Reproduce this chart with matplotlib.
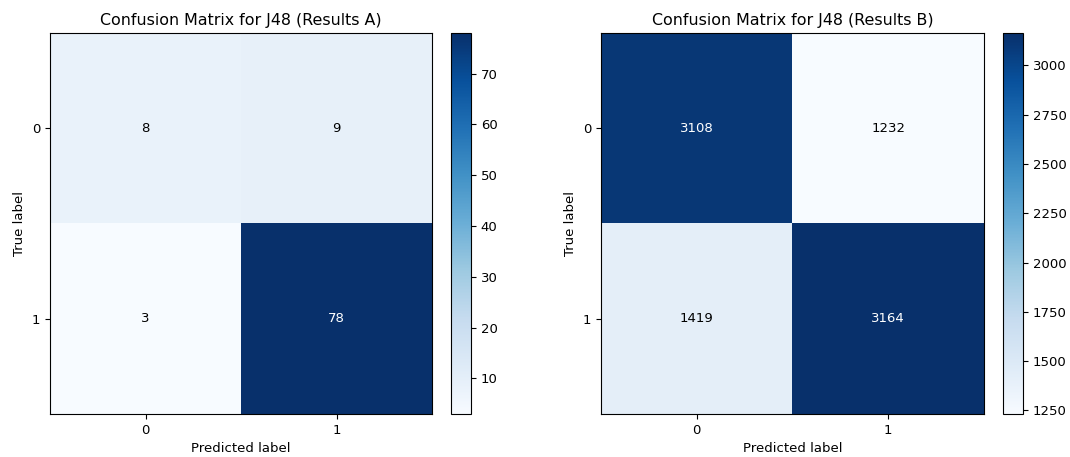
import numpy as np
import matplotlib.pyplot as plt

class_labels = ["0", "1"]
cm_a = np.array([[8, 9],
                 [3, 78]])
cm_b = np.array([[3108, 1232],
                 [1419, 3164]])
titles = ["Confusion Matrix for J48 (Results A)", "Confusion Matrix for J48 (Results B)"]

plt.rcParams["font.size"] = 9.5
plt.rcParams["axes.titlesize"] = 11.4

W, H = 1070, 457
fig = plt.figure(figsize=(W / 100, H / 100), dpi=100)

# axes boxes in pixel units: (left, top, right, bottom)
mat_boxes = [(50, 33, 432, 414), (601, 33, 984, 414)]
bar_boxes = [(451, 33, 471, 414), (1003, 33, 1023, 414)]


def px_rect(box):
    l, t, r, b = box
    return [l / W, (H - b) / H, (r - l) / W, (b - t) / H]


def plot_cm(cm, title, mbox, cbox):
    ax = fig.add_axes(px_rect(mbox))
    cax = fig.add_axes(px_rect(cbox))
    cmap = plt.cm.Blues
    im = ax.imshow(cm, cmap=cmap, aspect="auto", interpolation="nearest")
    fig.colorbar(im, cax=cax)
    thresh = (cm.max() + cm.min()) / 2.0
    for i in range(cm.shape[0]):
        for j in range(cm.shape[1]):
            color = "white" if cm[i, j] > thresh else "black"
            ax.text(j, i, f"{cm[i, j]}", ha="center", va="center", color=color)
    ax.set_xticks(range(len(class_labels)), class_labels)
    ax.set_yticks(range(len(class_labels)), class_labels)
    ax.set_xlabel("Predicted label")
    ax.set_ylabel("True label")
    ax.set_title(title)


for cm, title, mb, cb in zip([cm_a, cm_b], titles, mat_boxes, bar_boxes):
    plot_cm(cm, title, mb, cb)

fig.savefig("out.png", dpi=100)
